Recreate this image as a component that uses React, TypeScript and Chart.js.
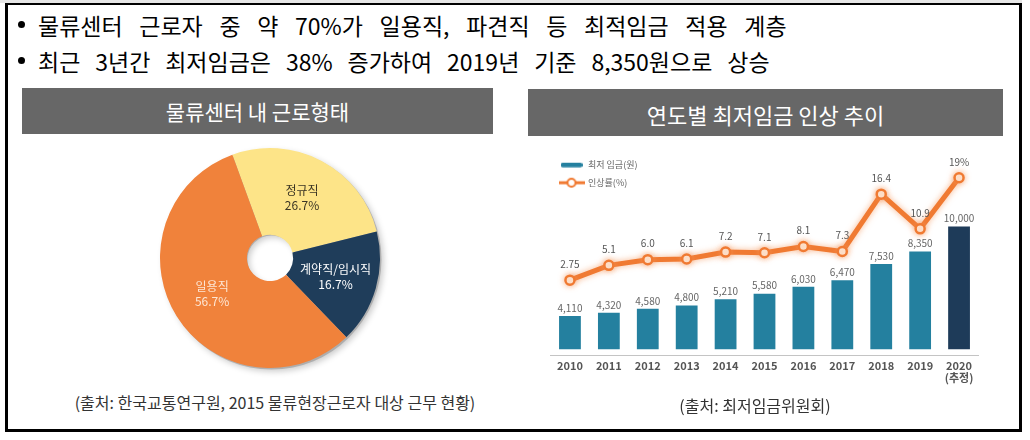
import React, { useEffect, useRef } from 'react';
import { Chart, registerables } from 'chart.js';

Chart.register(...registerables);

const FONT = '"Noto Sans CJK KR", "Noto Sans", sans-serif';

const bulletLines = [
  '물류센터 근로자 중 약 70%가 일용직, 파견직 등 최적임금 적용 계층',
  '최근 3년간 최저임금은 38% 증가하여 2019년 기준 8,350원으로 상승',
];

const pieTitle = '물류센터 내 근로형태';
const pieLabels = ['정규직', '계약직/임시직', '일용직'];
const pieValues = [26.7, 16.7, 56.7];
const pieColors = ['#FDE488', '#1F3D5A', '#F0823B'];
const pieTextColors = ['#3b3524', '#ffffff', '#fde6d4'];
const pieSource = '(출처: 한국교통연구원, 2015 물류현장근로자 대상 근무 현황)';

const barTitle = '연도별 최저임금 인상 추이';
const years: (string | string[])[] = ['2010', '2011', '2012', '2013', '2014', '2015', '2016', '2017', '2018', '2019', ['2020', '(추정)']];
const wages = [4110, 4320, 4580, 4800, 5210, 5580, 6030, 6470, 7530, 8350, 10000];
const rates = [2.75, 5.1, 6.0, 6.1, 7.2, 7.1, 8.1, 7.3, 16.4, 10.9, 19];
const rateLabels = ['2.75', '5.1', '6.0', '6.1', '7.2', '7.1', '8.1', '7.3', '16.4', '10.9', '19%'];
const wageSeriesName = '최저 임금(원)';
const rateSeriesName = '인상률(%)';
const barSource = '(출처: 최저임금위원회)';

const TEAL = '#24809F';
const NAVY = '#1E3B59';
const ORANGE = '#F07A32';

function PieChart() {
  const ref = useRef<HTMLCanvasElement>(null);
  useEffect(() => {
    const shadowPlugin = {
      id: 'pieShadow',
      beforeDatasetsDraw(chart: any) {
        const arc: any = chart.getDatasetMeta(0).data[0];
        if (!arc) return;
        const p = arc.getProps(['outerRadius', 'innerRadius', 'x', 'y'], true);
        const ctx = chart.ctx;
        ctx.save();
        ctx.shadowColor = 'rgba(0,0,0,0.35)';
        ctx.shadowBlur = 6;
        ctx.shadowOffsetX = 2;
        ctx.shadowOffsetY = 2;
        ctx.fillStyle = 'rgba(150,150,150,0.6)';
        ctx.beginPath();
        ctx.arc(p.x + 1.5, p.y + 1.5, p.outerRadius, 0, Math.PI * 2);
        ctx.arc(p.x + 1.5, p.y + 1.5, p.innerRadius + 1, 0, Math.PI * 2, true);
        ctx.closePath();
        ctx.fill();
        ctx.restore();
      },
    };
    const labelPlugin = {
      id: 'pieLabels',
      afterDatasetsDraw(chart: any) {
        const ctx = chart.ctx;
        const meta = chart.getDatasetMeta(0);
        meta.data.forEach((arc: any, i: number) => {
          const p = arc.getProps(['startAngle', 'endAngle', 'outerRadius', 'x', 'y'], true);
          const mid = (p.startAngle + p.endAngle) / 2;
          const r = p.outerRadius * 0.62;
          const cx = p.x + Math.cos(mid) * r;
          const cy = p.y + Math.sin(mid) * r;
          ctx.save();
          ctx.fillStyle = pieTextColors[i];
          ctx.font = `12px ${FONT}`;
          ctx.textAlign = 'center';
          ctx.textBaseline = 'middle';
          ctx.fillText(pieLabels[i], cx, cy - 7.5);
          ctx.fillText(pieValues[i].toFixed(1) + '%', cx, cy + 7.5);
          ctx.restore();
        });
      },
    };
    const chart = new Chart(ref.current!, {
      type: 'doughnut',
      data: {
        labels: pieLabels,
        datasets: [{ data: pieValues, backgroundColor: pieColors, borderWidth: 0 }],
      },
      options: {
        responsive: false,
        animation: false,
        devicePixelRatio: 1,
        rotation: -20,
        cutout: '21%',
        layout: { padding: 10 },
        plugins: { legend: { display: false }, tooltip: { enabled: false } },
      },
      plugins: [shadowPlugin, labelPlugin],
    } as any);
    return () => chart.destroy();
  }, []);
  return <canvas ref={ref} width={240} height={240} style={{ position: 'absolute', left: 150, top: 138 }} />;
}

function makeBarSwatch() {
  const c = document.createElement('canvas');
  c.width = 22;
  c.height = 6;
  const g = c.getContext('2d')!;
  g.fillStyle = TEAL;
  g.beginPath();
  (g as any).roundRect(0, 1, 22, 4.5, 2);
  g.fill();
  return c;
}

function makeLineSwatch() {
  const c = document.createElement('canvas');
  c.width = 26;
  c.height = 12;
  const g = c.getContext('2d')!;
  g.strokeStyle = ORANGE;
  g.lineWidth = 3;
  g.beginPath();
  g.moveTo(0, 6);
  g.lineTo(26, 6);
  g.stroke();
  g.fillStyle = '#fff';
  g.lineWidth = 2;
  g.beginPath();
  g.arc(13, 6, 4, 0, Math.PI * 2);
  g.fill();
  g.stroke();
  return c;
}

function ComboChart() {
  const ref = useRef<HTMLCanvasElement>(null);
  useEffect(() => {
    const barSwatch = makeBarSwatch();
    const lineSwatch = makeLineSwatch();
    const glowPlugin = {
      id: 'lineGlow',
      beforeDatasetDraw(chart: any, args: any) {
        if (args.index !== 1) return;
        const ctx = chart.ctx;
        ctx.save();
        ctx.shadowColor = 'rgba(245,150,90,0.7)';
        ctx.shadowBlur = 6;
      },
      afterDatasetDraw(chart: any, args: any) {
        if (args.index !== 1) return;
        chart.ctx.restore();
      },
    };
    const valuePlugin = {
      id: 'valueLabels',
      afterDatasetsDraw(chart: any) {
        const ctx = chart.ctx;
        ctx.save();
        ctx.font = `10px ${FONT}`;
        ctx.fillStyle = '#666';
        ctx.textAlign = 'center';
        ctx.textBaseline = 'bottom';
        chart.getDatasetMeta(0).data.forEach((el: any, i: number) => {
          ctx.fillText(wages[i].toLocaleString('en-US'), el.x, el.y - 3);
        });
        ctx.textBaseline = 'middle';
        ctx.fillStyle = '#555';
        chart.getDatasetMeta(1).data.forEach((el: any, i: number) => {
          ctx.fillText(rateLabels[i], el.x, el.y - 16);
        });
        ctx.restore();
      },
    };
    const chart = new Chart(ref.current!, {
      type: 'bar',
      data: {
        labels: years,
        datasets: [
          {
            type: 'bar',
            label: wageSeriesName,
            data: wages,
            yAxisID: 'y',
            backgroundColor: wages.map((_, i) => (i === wages.length - 1 ? NAVY : TEAL)),
            base: 1920,
            barPercentage: 0.56,
            categoryPercentage: 1,
            order: 1,
          },
          {
            type: 'line',
            label: rateSeriesName,
            data: rates,
            yAxisID: 'y1',
            borderColor: ORANGE,
            borderWidth: 5,
            pointRadius: 4.5,
            pointBorderWidth: 2.5,
            pointBackgroundColor: '#fff8f0',
            pointBorderColor: ORANGE,
            tension: 0,
            order: 0,
          },
        ],
      },
      options: {
        responsive: false,
        animation: false,
        devicePixelRatio: 1,
        layout: { padding: { left: 10.5, right: 11.5, top: 10, bottom: 10 } },
        scales: {
          x: {
            grid: { display: false, drawTicks: false, tickLength: 0 },
            border: { display: true, color: '#c4c4c4', dash: [2, 2], width: 1 },
            ticks: {
              color: '#555',
              font: { size: 11, weight: 'bold', family: FONT, lineHeight: 1.1 },
              padding: 5,
              maxRotation: 0,
              autoSkip: false,
            },
            afterFit: (s: any) => {
              s.height = 35;
            },
          },
          y: { display: false, min: 1545, max: 15030 },
          y1: { display: false, min: -9.13, max: 23.41, position: 'right' },
        },
        plugins: {
          tooltip: { enabled: false },
          legend: {
            position: 'chartArea',
            align: 'start',
            title: { display: true, text: '', font: { size: 1 }, padding: { top: 10, bottom: 0 } },
            labels: {
              usePointStyle: true,
              pointStyleWidth: 24,
              boxHeight: 10,
              padding: 9,
              color: '#777',
              font: { size: 9, family: FONT },
              generateLabels: () => [
                { text: wageSeriesName, pointStyle: barSwatch, fillStyle: TEAL, strokeStyle: TEAL, lineWidth: 0, hidden: false, datasetIndex: 0 },
                { text: rateSeriesName, pointStyle: lineSwatch, fillStyle: '#fff', strokeStyle: ORANGE, lineWidth: 0, hidden: false, datasetIndex: 1 },
              ],
            },
          },
        },
      },
      plugins: [glowPlugin, valuePlugin],
    } as any);
    return () => chart.destroy();
  }, []);
  return <canvas ref={ref} width={450} height={260} style={{ position: 'absolute', left: 540, top: 140 }} />;
}

export default function App() {
  const bulletStyle = (top: number, ws: number): React.CSSProperties => ({
    position: 'absolute',
    left: 38,
    top,
    height: 30,
    lineHeight: '30px',
    fontSize: 23,
    fontWeight: 400,
    wordSpacing: ws,
    color: '#000',
    whiteSpace: 'nowrap',
  });
  const dot = (top: number): React.CSSProperties => ({
    position: 'absolute',
    left: 18,
    top,
    width: 7,
    height: 7,
    borderRadius: '50%',
    background: '#000',
  });
  const header: React.CSSProperties = {
    position: 'absolute',
    background: '#676767',
    color: '#fff',
    textAlign: 'center',
    whiteSpace: 'nowrap',
  };
  const caption: React.CSSProperties = {
    position: 'absolute',
    fontSize: 16,
    color: '#333',
    textAlign: 'center',
    whiteSpace: 'nowrap',
    height: 24,
    lineHeight: '24px',
  };
  return (
    <div style={{ position: 'absolute', left: 0, top: 0, width: 1030, height: 440, background: '#fff', fontFamily: FONT, overflow: 'hidden' }}>
      <div style={{ position: 'absolute', left: 0, top: 0, width: 1022, height: 3, background: '#e6e6e6' }} />
      <div
        style={{
          position: 'absolute',
          left: 5,
          top: 3,
          width: 1017,
          height: 429,
          boxSizing: 'border-box',
          borderLeft: '3px solid #000',
          borderRight: '3px solid #000',
          borderBottom: '3px solid #000',
          borderTop: '2px solid #000',
        }}
      />
      <div style={dot(21)} />
      <div style={bulletStyle(10, 11.5)}>{bulletLines[0]}</div>
      <div style={dot(57)} />
      <div style={bulletStyle(46, 9.75)}>{bulletLines[1]}</div>

      <div style={{ ...header, left: 22, top: 88, width: 471, height: 46, lineHeight: '46px', fontSize: 21 }}>{pieTitle}</div>
      <div style={{ ...header, left: 528, top: 89, width: 475, height: 47, lineHeight: '50px', fontSize: 22 }}>{barTitle}</div>

      <PieChart />
      <ComboChart />

      <div style={{ ...caption, left: 25, top: 390, width: 500 }}>{pieSource}</div>
      <div style={{ ...caption, left: 655, top: 393, width: 200 }}>{barSource}</div>
    </div>
  );
}
